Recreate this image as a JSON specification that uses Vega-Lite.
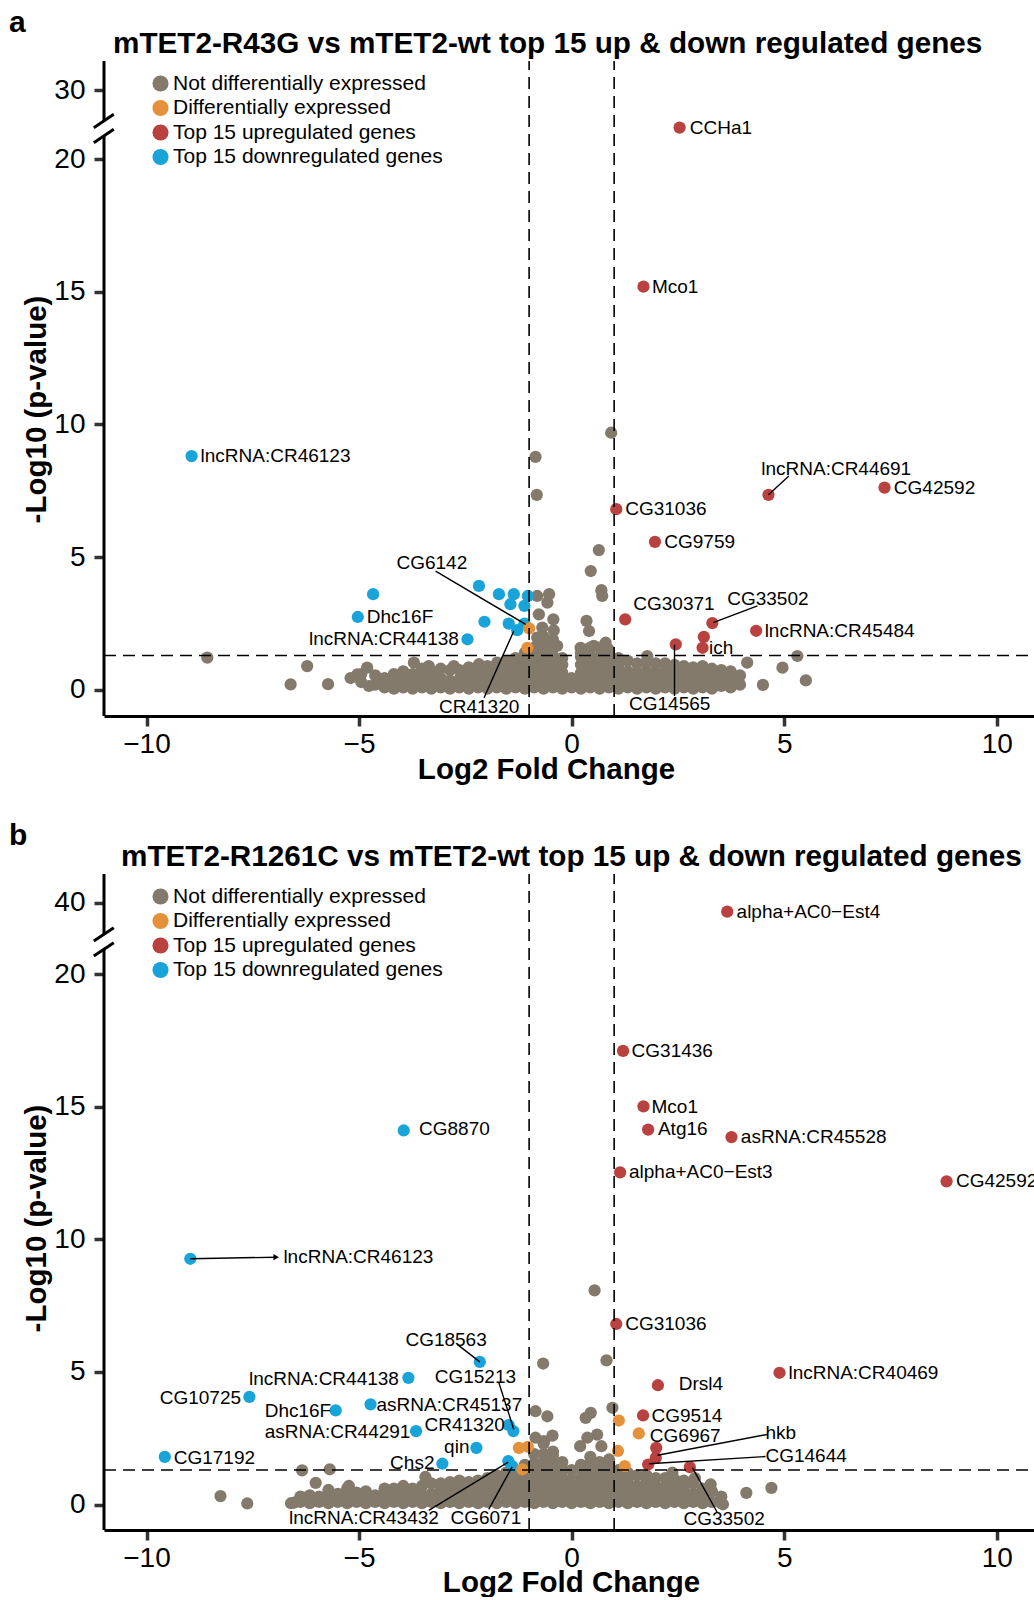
{
"$schema": "https://vega.github.io/schema/vega-lite/v6.json",
"background": "white",
"padding": {"left": 9, "top": 8, "right": 0, "bottom": 0},
"config": {
 "font": "Liberation Sans",
 "view": {"stroke": null},
 "axis": {"grid": false, "labelColor": "black", "titleColor": "black", "tickColor": "#333333", "labelFont": "Liberation Sans", "titleFont": "Liberation Sans"},
 "legend": {"orient": "none", "legendX": 46, "legendY": 12, "labelFontSize": 21, "labelColor": "black", "symbolSize": 260, "symbolType": "circle", "rowPadding": 2.5, "labelOffset": 2, "padding": 0, "symbolStrokeWidth": 0, "labelLimit": 500, "symbolOpacity": 1},
 "text": {"font": "Liberation Sans"}
},
"datasets": {
"a_grey": [
{"x":-8.57,"y":1.22},{"x":-6.22,"y":0.9},{"x":-6.61,"y":0.21},{"x":-5.73,"y":0.22},{"x":-5.04,"y":0.59},{"x":-4.81,"y":0.84},{"x":-4.77,"y":0.15},{"x":0.93,"y":9.69},{"x":-0.85,"y":8.78},{"x":-0.82,"y":7.35},{"x":0.64,"y":5.27},{"x":0.45,"y":4.48},{"x":0.7,"y":3.76},{"x":0.72,"y":3.54},{"x":-0.81,"y":3.54},{"x":-0.53,"y":3.61},{"x":-0.57,"y":3.29},{"x":-0.77,"y":2.85},{"x":-0.43,"y":2.66},{"x":-0.69,"y":2.35},{"x":-0.42,"y":2.25},{"x":0.35,"y":2.6},{"x":0.41,"y":2.22},{"x":-0.81,"y":1.97},{"x":-0.57,"y":1.85},{"x":-0.34,"y":1.66},{"x":0.21,"y":1.59},{"x":0.52,"y":1.66},{"x":0.8,"y":1.78},{"x":0.85,"y":1.55},{"x":1.78,"y":1.28},{"x":5.31,"y":1.28},{"x":4.96,"y":0.84},{"x":5.51,"y":0.36},{"x":4.5,"y":0.19},{"x":4.13,"y":1.03},{"x":-3.71,"y":1.03},{"x":-3.36,"y":0.9},{"x":-2.77,"y":0.9},{"x":-2.18,"y":0.97},{"x":-1.75,"y":1.03},
{"x":-5.2,"y":0.45},
{"x":-4.95,"y":0.3},{"x":-4.95,"y":0.6},
{"x":-4.62,"y":0.2},{"x":-4.62,"y":0.55},
{"x":-4.4,"y":0.1},{"x":-4.4,"y":0.45},
{"x":-4.18,"y":0.05},{"x":-4.18,"y":0.35},{"x":-4.18,"y":0.6},
{"x":-3.96,"y":0.1},{"x":-3.96,"y":0.4},{"x":-3.96,"y":0.7},
{"x":-3.74,"y":0.05},{"x":-3.74,"y":0.35},{"x":-3.74,"y":0.6},
{"x":-3.52,"y":0.1},{"x":-3.52,"y":0.45},{"x":-3.52,"y":0.8},
{"x":-3.3,"y":0.05},{"x":-3.3,"y":0.35},{"x":-3.3,"y":0.7},
{"x":-3.08,"y":0.1},{"x":-3.08,"y":0.45},{"x":-3.08,"y":0.8},
{"x":-2.86,"y":0.05},{"x":-2.86,"y":0.35},{"x":-2.86,"y":0.75},
{"x":-2.64,"y":0.1},{"x":-2.64,"y":0.4},{"x":-2.64,"y":0.75},
{"x":-2.42,"y":0.05},{"x":-2.42,"y":0.35},{"x":-2.42,"y":0.65},{"x":-2.42,"y":0.85},
{"x":-2.2,"y":0.1},{"x":-2.2,"y":0.4},{"x":-2.2,"y":0.7},{"x":-2.2,"y":0.85},
{"x":-1.98,"y":0.05},{"x":-1.98,"y":0.35},{"x":-1.98,"y":0.65},{"x":-1.98,"y":0.9},
{"x":-1.76,"y":0.1},{"x":-1.76,"y":0.4},{"x":-1.76,"y":0.7},{"x":-1.76,"y":0.95},
{"x":-1.54,"y":0.05},{"x":-1.54,"y":0.35},{"x":-1.54,"y":0.65},{"x":-1.54,"y":0.95},{"x":-1.54,"y":1.1},
{"x":-1.32,"y":0.1},{"x":-1.32,"y":0.4},{"x":-1.32,"y":0.7},{"x":-1.32,"y":1.0},{"x":-1.32,"y":1.2},
{"x":-1.1,"y":0.05},{"x":-1.1,"y":0.35},{"x":-1.1,"y":0.65},{"x":-1.1,"y":0.95},{"x":-1.1,"y":1.25},{"x":-1.1,"y":1.4},
{"x":-0.88,"y":0.1},{"x":-0.88,"y":0.4},{"x":-0.88,"y":0.7},{"x":-0.88,"y":1.0},{"x":-0.88,"y":1.3},{"x":-0.88,"y":1.6},
{"x":-0.66,"y":0.05},{"x":-0.66,"y":0.35},{"x":-0.66,"y":0.65},{"x":-0.66,"y":0.95},{"x":-0.66,"y":1.25},{"x":-0.66,"y":1.55},{"x":-0.66,"y":1.85},{"x":-0.66,"y":2.0},
{"x":-0.44,"y":0.1},{"x":-0.44,"y":0.4},{"x":-0.44,"y":0.7},{"x":-0.44,"y":1.0},{"x":-0.44,"y":1.3},{"x":-0.44,"y":1.6},{"x":-0.44,"y":1.9},
{"x":-0.22,"y":0.05},{"x":-0.22,"y":0.35},{"x":-0.22,"y":0.65},{"x":-0.22,"y":0.95},{"x":-0.22,"y":1.2},
{"x":0.0,"y":0.1},{"x":0.0,"y":0.45},
{"x":0.22,"y":0.05},{"x":0.22,"y":0.35},{"x":0.22,"y":0.65},{"x":0.22,"y":0.95},{"x":0.22,"y":1.25},{"x":0.22,"y":1.4},
{"x":0.44,"y":0.1},{"x":0.44,"y":0.4},{"x":0.44,"y":0.7},{"x":0.44,"y":1.0},{"x":0.44,"y":1.3},{"x":0.44,"y":1.6},
{"x":0.66,"y":0.05},{"x":0.66,"y":0.35},{"x":0.66,"y":0.65},{"x":0.66,"y":0.95},{"x":0.66,"y":1.25},{"x":0.66,"y":1.6},
{"x":0.88,"y":0.1},{"x":0.88,"y":0.4},{"x":0.88,"y":0.7},{"x":0.88,"y":1.0},{"x":0.88,"y":1.3},{"x":0.88,"y":1.5},
{"x":1.1,"y":0.05},{"x":1.1,"y":0.35},{"x":1.1,"y":0.65},{"x":1.1,"y":0.95},{"x":1.1,"y":1.2},
{"x":1.32,"y":0.1},{"x":1.32,"y":0.4},{"x":1.32,"y":0.7},{"x":1.32,"y":1.1},
{"x":1.54,"y":0.05},{"x":1.54,"y":0.35},{"x":1.54,"y":0.65},{"x":1.54,"y":1.0},
{"x":1.76,"y":0.1},{"x":1.76,"y":0.4},{"x":1.76,"y":0.7},{"x":1.76,"y":1.05},
{"x":1.98,"y":0.05},{"x":1.98,"y":0.35},{"x":1.98,"y":0.65},{"x":1.98,"y":1.0},
{"x":2.2,"y":0.1},{"x":2.2,"y":0.4},{"x":2.2,"y":0.7},{"x":2.2,"y":1.0},
{"x":2.42,"y":0.05},{"x":2.42,"y":0.35},{"x":2.42,"y":0.65},{"x":2.42,"y":0.95},
{"x":2.64,"y":0.1},{"x":2.64,"y":0.4},{"x":2.64,"y":0.7},{"x":2.64,"y":0.9},
{"x":2.86,"y":0.05},{"x":2.86,"y":0.35},{"x":2.86,"y":0.65},{"x":2.86,"y":0.85},
{"x":3.08,"y":0.1},{"x":3.08,"y":0.4},{"x":3.08,"y":0.7},{"x":3.08,"y":0.9},
{"x":3.3,"y":0.05},{"x":3.3,"y":0.35},{"x":3.3,"y":0.6},{"x":3.3,"y":0.8},
{"x":3.52,"y":0.15},{"x":3.52,"y":0.45},{"x":3.52,"y":0.75},
{"x":3.74,"y":0.1},{"x":3.74,"y":0.4},{"x":3.74,"y":0.7},
{"x":3.96,"y":0.2},{"x":3.96,"y":0.55}
],
"a_col": [
{"x":2.54,"y":24.57,"g":"Top 15 upregulated genes"},
{"x":1.69,"y":15.19,"g":"Top 15 upregulated genes"},
{"x":4.63,"y":7.35,"g":"Top 15 upregulated genes"},
{"x":7.36,"y":7.62,"g":"Top 15 upregulated genes"},
{"x":1.05,"y":6.81,"g":"Top 15 upregulated genes"},
{"x":1.96,"y":5.58,"g":"Top 15 upregulated genes"},
{"x":1.26,"y":2.66,"g":"Top 15 upregulated genes"},
{"x":3.31,"y":2.52,"g":"Top 15 upregulated genes"},
{"x":4.34,"y":2.23,"g":"Top 15 upregulated genes"},
{"x":3.11,"y":2.0,"g":"Top 15 upregulated genes"},
{"x":3.08,"y":1.59,"g":"Top 15 upregulated genes"},
{"x":2.45,"y":1.72,"g":"Top 15 upregulated genes"},
{"x":-8.94,"y":8.81,"g":"Top 15 downregulated genes"},
{"x":-4.67,"y":3.61,"g":"Top 15 downregulated genes"},
{"x":-5.03,"y":2.75,"g":"Top 15 downregulated genes"},
{"x":-2.45,"y":1.91,"g":"Top 15 downregulated genes"},
{"x":-2.18,"y":3.92,"g":"Top 15 downregulated genes"},
{"x":-2.05,"y":2.57,"g":"Top 15 downregulated genes"},
{"x":-1.71,"y":3.61,"g":"Top 15 downregulated genes"},
{"x":-1.36,"y":3.61,"g":"Top 15 downregulated genes"},
{"x":-1.44,"y":3.23,"g":"Top 15 downregulated genes"},
{"x":-1.03,"y":3.54,"g":"Top 15 downregulated genes"},
{"x":-1.11,"y":3.17,"g":"Top 15 downregulated genes"},
{"x":-1.48,"y":2.5,"g":"Top 15 downregulated genes"},
{"x":-1.28,"y":2.25,"g":"Top 15 downregulated genes"},
{"x":-1.11,"y":2.5,"g":"Top 15 downregulated genes"},
{"x":-1.0,"y":2.32,"g":"Differentially expressed"},
{"x":-1.04,"y":1.59,"g":"Differentially expressed"}
],
"a_lab": [
{"x":2.78,"y":24.57,"label":"CCHa1"},
{"x":1.89,"y":15.19,"label":"Mco1"},
{"x":-8.73,"y":8.81,"label":"lncRNA:CR46123"},
{"x":4.46,"y":8.31,"label":"lncRNA:CR44691"},
{"x":7.58,"y":7.62,"label":"CG42592"},
{"x":1.26,"y":6.81,"label":"CG31036"},
{"x":2.18,"y":5.58,"label":"CG9759"},
{"x":-4.12,"y":4.77,"label":"CG6142"},
{"x":-4.82,"y":2.75,"label":"Dhc16F"},
{"x":-6.18,"y":1.91,"label":"lncRNA:CR44138"},
{"x":-3.12,"y":-0.64,"label":"CR41320"},
{"x":1.45,"y":3.23,"label":"CG30371"},
{"x":3.66,"y":3.42,"label":"CG33502"},
{"x":4.54,"y":2.22,"label":"lncRNA:CR45484"},
{"x":3.23,"y":1.57,"label":"ich"},
{"x":1.35,"y":-0.52,"label":"CG14565"}
],
"a_seg": [
{"x":4.63,"y":7.35,"x2":5.11,"y2":8.06},
{"x":-3.2,"y":4.48,"x2":-1.08,"y2":2.47},
{"x":-2.06,"y":-0.29,"x2":-1.36,"y2":2.22},
{"x":3.33,"y":2.54,"x2":4.37,"y2":3.17},
{"x":2.42,"y":1.7,"x2":2.42,"y2":-0.23}
],
"a_thr": [
{"x":-1,"y":-0.98,"x2":-1,"y2":34.26},
{"x":1,"y":-0.98,"x2":1,"y2":34.26},
{"x":-11,"y":1.301,"x2":10.9,"y2":1.301}
],
"a_brk": [
{"x":-11,"y":-0.98,"x2":-11,"y2":23.35},
{"x":-11,"y":25.53,"x2":-11,"y2":34.26},
{"x":-11.24,"y":24.56,"x2":-10.77,"y2":26.51},
{"x":-11.24,"y":22.37,"x2":-10.77,"y2":24.32}
],
"b_grey": [
{"x":-8.26,"y":0.32},{"x":-7.63,"y":0.04},{"x":-6.34,"y":1.29},{"x":-6.02,"y":0.82},{"x":-5.69,"y":1.33},{"x":-6.53,"y":0.07},{"x":-6.3,"y":0.26},{"x":-5.24,"y":0.7},{"x":-3.44,"y":1.04},{"x":-0.67,"y":5.32},{"x":-0.85,"y":3.52},{"x":-0.57,"y":3.33},{"x":-0.85,"y":2.52},{"x":-0.65,"y":2.39},{"x":-0.45,"y":2.6},{"x":0.54,"y":8.08},{"x":0.82,"y":5.44},{"x":0.96,"y":3.65},{"x":0.45,"y":3.46},{"x":0.33,"y":3.27},{"x":0.37,"y":2.52},{"x":0.6,"y":2.64},{"x":0.2,"y":2.2},{"x":0.7,"y":2.2},{"x":4.7,"y":0.63},{"x":4.11,"y":0.44},{"x":3.56,"y":0.01},{"x":3.27,"y":0.76},{"x":2.37,"y":1.2},{"x":2.9,"y":1.0},
{"x":-6.6,"y":0.05},
{"x":-6.38,"y":0.1},{"x":-6.38,"y":0.3},
{"x":-6.16,"y":0.05},{"x":-6.16,"y":0.35},
{"x":-5.94,"y":0.1},{"x":-5.94,"y":0.3},
{"x":-5.72,"y":0.05},{"x":-5.72,"y":0.35},{"x":-5.72,"y":0.55},
{"x":-5.5,"y":0.1},{"x":-5.5,"y":0.4},
{"x":-5.28,"y":0.05},{"x":-5.28,"y":0.35},{"x":-5.28,"y":0.6},
{"x":-5.06,"y":0.1},{"x":-5.06,"y":0.45},
{"x":-4.84,"y":0.05},{"x":-4.84,"y":0.3},{"x":-4.84,"y":0.5},
{"x":-4.62,"y":0.1},{"x":-4.62,"y":0.35},
{"x":-4.4,"y":0.05},{"x":-4.4,"y":0.35},{"x":-4.4,"y":0.6},
{"x":-4.18,"y":0.1},{"x":-4.18,"y":0.4},{"x":-4.18,"y":0.6},
{"x":-3.96,"y":0.05},{"x":-3.96,"y":0.35},{"x":-3.96,"y":0.7},
{"x":-3.74,"y":0.1},{"x":-3.74,"y":0.4},{"x":-3.74,"y":0.6},
{"x":-3.52,"y":0.05},{"x":-3.52,"y":0.35},{"x":-3.52,"y":0.7},
{"x":-3.3,"y":0.1},{"x":-3.3,"y":0.4},{"x":-3.3,"y":0.8},
{"x":-3.08,"y":0.05},{"x":-3.08,"y":0.35},{"x":-3.08,"y":0.65},{"x":-3.08,"y":0.8},
{"x":-2.86,"y":0.1},{"x":-2.86,"y":0.4},{"x":-2.86,"y":0.7},{"x":-2.86,"y":0.85},
{"x":-2.64,"y":0.05},{"x":-2.64,"y":0.35},{"x":-2.64,"y":0.65},{"x":-2.64,"y":0.9},
{"x":-2.42,"y":0.1},{"x":-2.42,"y":0.4},{"x":-2.42,"y":0.7},{"x":-2.42,"y":0.85},
{"x":-2.2,"y":0.05},{"x":-2.2,"y":0.35},{"x":-2.2,"y":0.65},{"x":-2.2,"y":0.9},
{"x":-1.98,"y":0.1},{"x":-1.98,"y":0.4},{"x":-1.98,"y":0.7},{"x":-1.98,"y":1.0},
{"x":-1.76,"y":0.05},{"x":-1.76,"y":0.35},{"x":-1.76,"y":0.65},{"x":-1.76,"y":0.95},{"x":-1.76,"y":1.1},
{"x":-1.54,"y":0.1},{"x":-1.54,"y":0.4},{"x":-1.54,"y":0.7},{"x":-1.54,"y":1.0},{"x":-1.54,"y":1.2},
{"x":-1.32,"y":0.05},{"x":-1.32,"y":0.35},{"x":-1.32,"y":0.65},{"x":-1.32,"y":0.95},{"x":-1.32,"y":1.3},
{"x":-1.1,"y":0.1},{"x":-1.1,"y":0.4},{"x":-1.1,"y":0.7},{"x":-1.1,"y":1.0},{"x":-1.1,"y":1.3},{"x":-1.1,"y":1.5},
{"x":-0.88,"y":0.05},{"x":-0.88,"y":0.35},{"x":-0.88,"y":0.65},{"x":-0.88,"y":0.95},{"x":-0.88,"y":1.25},{"x":-0.88,"y":1.55},{"x":-0.88,"y":1.9},
{"x":-0.66,"y":0.1},{"x":-0.66,"y":0.4},{"x":-0.66,"y":0.7},{"x":-0.66,"y":1.0},{"x":-0.66,"y":1.3},{"x":-0.66,"y":1.6},{"x":-0.66,"y":1.9},{"x":-0.66,"y":2.3},
{"x":-0.44,"y":0.05},{"x":-0.44,"y":0.35},{"x":-0.44,"y":0.65},{"x":-0.44,"y":0.95},{"x":-0.44,"y":1.25},{"x":-0.44,"y":1.55},{"x":-0.44,"y":1.85},{"x":-0.44,"y":2.0},
{"x":-0.22,"y":0.1},{"x":-0.22,"y":0.4},{"x":-0.22,"y":0.7},{"x":-0.22,"y":1.0},{"x":-0.22,"y":1.3},{"x":-0.22,"y":1.6},
{"x":0.0,"y":0.05},{"x":0.0,"y":0.35},{"x":0.0,"y":0.65},{"x":0.0,"y":0.95},{"x":0.0,"y":1.3},
{"x":0.22,"y":0.1},{"x":0.22,"y":0.4},{"x":0.22,"y":0.7},{"x":0.22,"y":1.0},{"x":0.22,"y":1.3},{"x":0.22,"y":1.5},
{"x":0.44,"y":0.05},{"x":0.44,"y":0.35},{"x":0.44,"y":0.65},{"x":0.44,"y":0.95},{"x":0.44,"y":1.25},{"x":0.44,"y":1.55},{"x":0.44,"y":1.8},
{"x":0.66,"y":0.1},{"x":0.66,"y":0.4},{"x":0.66,"y":0.7},{"x":0.66,"y":1.0},{"x":0.66,"y":1.3},{"x":0.66,"y":1.6},
{"x":0.88,"y":0.05},{"x":0.88,"y":0.35},{"x":0.88,"y":0.65},{"x":0.88,"y":0.95},{"x":0.88,"y":1.25},{"x":0.88,"y":1.55},{"x":0.88,"y":1.7},
{"x":1.1,"y":0.1},{"x":1.1,"y":0.4},{"x":1.1,"y":0.7},{"x":1.1,"y":1.0},{"x":1.1,"y":1.3},
{"x":1.32,"y":0.05},{"x":1.32,"y":0.35},{"x":1.32,"y":0.65},{"x":1.32,"y":0.95},{"x":1.32,"y":1.2},
{"x":1.54,"y":0.1},{"x":1.54,"y":0.4},{"x":1.54,"y":0.7},{"x":1.54,"y":1.1},
{"x":1.76,"y":0.05},{"x":1.76,"y":0.35},{"x":1.76,"y":0.65},{"x":1.76,"y":0.95},{"x":1.76,"y":1.1},
{"x":1.98,"y":0.1},{"x":1.98,"y":0.4},{"x":1.98,"y":0.7},{"x":1.98,"y":1.0},
{"x":2.2,"y":0.05},{"x":2.2,"y":0.35},{"x":2.2,"y":0.65},{"x":2.2,"y":1.0},
{"x":2.42,"y":0.1},{"x":2.42,"y":0.4},{"x":2.42,"y":0.7},{"x":2.42,"y":0.95},
{"x":2.64,"y":0.05},{"x":2.64,"y":0.35},{"x":2.64,"y":0.65},{"x":2.64,"y":0.9},
{"x":2.86,"y":0.1},{"x":2.86,"y":0.4},{"x":2.86,"y":0.8},
{"x":3.08,"y":0.05},{"x":3.08,"y":0.35},{"x":3.08,"y":0.6},
{"x":3.3,"y":0.1},{"x":3.3,"y":0.5},
{"x":3.52,"y":0.05},{"x":3.52,"y":0.3}
],
"b_col": [
{"x":3.66,"y":37.49,"g":"Top 15 upregulated genes"},
{"x":1.21,"y":17.11,"g":"Top 15 upregulated genes"},
{"x":1.69,"y":15.02,"g":"Top 15 upregulated genes"},
{"x":1.8,"y":14.14,"g":"Top 15 upregulated genes"},
{"x":3.76,"y":13.86,"g":"Top 15 upregulated genes"},
{"x":1.14,"y":12.53,"g":"Top 15 upregulated genes"},
{"x":8.82,"y":12.19,"g":"Top 15 upregulated genes"},
{"x":1.05,"y":6.81,"g":"Top 15 upregulated genes"},
{"x":2.03,"y":4.5,"g":"Top 15 upregulated genes"},
{"x":4.89,"y":4.97,"g":"Top 15 upregulated genes"},
{"x":1.68,"y":3.36,"g":"Top 15 upregulated genes"},
{"x":1.99,"y":2.14,"g":"Top 15 upregulated genes"},
{"x":1.98,"y":1.76,"g":"Top 15 upregulated genes"},
{"x":1.8,"y":1.51,"g":"Top 15 upregulated genes"},
{"x":2.78,"y":1.41,"g":"Top 15 upregulated genes"},
{"x":-3.95,"y":14.11,"g":"Top 15 downregulated genes"},
{"x":-8.97,"y":9.27,"g":"Top 15 downregulated genes"},
{"x":-2.16,"y":5.38,"g":"Top 15 downregulated genes"},
{"x":-3.84,"y":4.78,"g":"Top 15 downregulated genes"},
{"x":-7.58,"y":4.06,"g":"Top 15 downregulated genes"},
{"x":-4.73,"y":3.78,"g":"Top 15 downregulated genes"},
{"x":-5.55,"y":3.55,"g":"Top 15 downregulated genes"},
{"x":-1.48,"y":3.0,"g":"Top 15 downregulated genes"},
{"x":-1.37,"y":2.77,"g":"Top 15 downregulated genes"},
{"x":-3.66,"y":2.77,"g":"Top 15 downregulated genes"},
{"x":-2.24,"y":2.14,"g":"Top 15 downregulated genes"},
{"x":-9.57,"y":1.8,"g":"Top 15 downregulated genes"},
{"x":-3.04,"y":1.54,"g":"Top 15 downregulated genes"},
{"x":-1.49,"y":1.64,"g":"Top 15 downregulated genes"},
{"x":-1.4,"y":1.45,"g":"Top 15 downregulated genes"},
{"x":-1.24,"y":2.14,"g":"Differentially expressed"},
{"x":-1.03,"y":2.18,"g":"Differentially expressed"},
{"x":-1.16,"y":1.33,"g":"Differentially expressed"},
{"x":1.11,"y":3.17,"g":"Differentially expressed"},
{"x":1.58,"y":2.68,"g":"Differentially expressed"},
{"x":1.09,"y":2.02,"g":"Differentially expressed"},
{"x":1.25,"y":1.45,"g":"Differentially expressed"}
],
"b_lab": [
{"x":3.88,"y":37.49,"label":"alpha+AC0−Est4"},
{"x":1.41,"y":17.09,"label":"CG31436"},
{"x":1.88,"y":14.99,"label":"Mco1"},
{"x":2.03,"y":14.16,"label":"Atg16"},
{"x":3.98,"y":13.85,"label":"asRNA:CR45528"},
{"x":1.35,"y":12.54,"label":"alpha+AC0−Est3"},
{"x":9.04,"y":12.19,"label":"CG42592"},
{"x":-3.59,"y":14.15,"label":"CG8870"},
{"x":-6.78,"y":9.34,"label":"lncRNA:CR46123"},
{"x":1.26,"y":6.81,"label":"CG31036"},
{"x":-3.91,"y":6.22,"label":"CG18563"},
{"x":-7.59,"y":4.75,"label":"lncRNA:CR44138"},
{"x":-3.22,"y":4.8,"label":"CG15213"},
{"x":-9.69,"y":4.02,"label":"CG10725"},
{"x":-4.59,"y":3.75,"label":"asRNA:CR45137"},
{"x":-7.22,"y":3.52,"label":"Dhc16F"},
{"x":-3.46,"y":3.0,"label":"CR41320"},
{"x":-7.22,"y":2.74,"label":"asRNA:CR44291"},
{"x":-3.0,"y":2.17,"label":"qin"},
{"x":-9.36,"y":1.76,"label":"CG17192"},
{"x":-4.27,"y":1.58,"label":"Chs2"},
{"x":-6.65,"y":-0.52,"label":"lncRNA:CR43432"},
{"x":-2.85,"y":-0.52,"label":"CG6071"},
{"x":2.52,"y":4.53,"label":"Drsl4"},
{"x":5.1,"y":4.97,"label":"lncRNA:CR40469"},
{"x":1.88,"y":3.33,"label":"CG9514"},
{"x":1.84,"y":2.58,"label":"CG6967"},
{"x":4.56,"y":2.7,"label":"hkb"},
{"x":4.56,"y":1.83,"label":"CG14644"},
{"x":2.63,"y":-0.53,"label":"CG33502"}
],
"b_seg": [
{"x":-2.69,"y":6.04,"x2":-2.16,"y2":5.38},
{"x":-1.71,"y":4.59,"x2":-1.36,"y2":2.83},
{"x":-3.36,"y":-0.22,"x2":-1.49,"y2":1.6},
{"x":-1.95,"y":-0.18,"x2":-1.4,"y2":1.42},
{"x":2.02,"y":1.86,"x2":4.59,"y2":2.64},
{"x":1.82,"y":1.54,"x2":4.56,"y2":1.81},
{"x":2.84,"y":1.39,"x2":3.43,"y2":-0.31},
{"x":-8.97,"y":9.27,"x2":-6.95,"y2":9.33}
],
"b_arrow": [{"x":-6.95,"y":9.33}],
"b_thr": [
{"x":-1,"y":-0.96,"x2":-1,"y2":48.0},
{"x":1,"y":-0.96,"x2":1,"y2":48.0},
{"x":-11,"y":1.301,"x2":10.9,"y2":1.301}
],
"b_brk": [
{"x":-11,"y":-0.96,"x2":-11,"y2":26.98},
{"x":-11,"y":31.17,"x2":-11,"y2":48.0},
{"x":-11.24,"y":29.3,"x2":-10.77,"y2":33.02},
{"x":-11.24,"y":25.11,"x2":-10.77,"y2":28.83}
]
},
"spacing": 37,
"resolve": {"scale": {"color": "independent"}, "legend": {"color": "independent"}},
"vconcat": [
{
 "title": {"text": "a", "anchor": "start", "fontSize": 30, "fontWeight": "bold", "offset": -39, "dx": -12, "baseline": "bottom", "color": "black"},
 "resolve": {"scale": {"color": "independent"}, "legend": {"color": "independent"}},
 "vconcat": [
 {
  "width": 931, "height": 655,
  "title": {"text": "mTET2-R43G vs mTET2-wt top 15 up & down regulated genes", "anchor": "start", "frame": "group", "dx": 9, "fontSize": 29.7, "fontWeight": "bold", "offset": -29.5, "baseline": "bottom", "color": "black"},
  "encoding": {
   "x": {"field": "x", "type": "quantitative", "scale": {"domain": [-11, 10.9], "nice": false, "zero": false},
         "axis": {"values": [-10, -5, 0, 5, 10], "title": "Log2 Fold Change", "titleFontSize": 29.5, "titleFontWeight": "bold", "labelFontSize": 28, "tickSize": 10, "tickWidth": 3.5, "domainColor": "black", "domainWidth": 3, "labelPadding": 4, "titleX": 442, "titleY": 62, "titleBaseline": "alphabetic", "titleAnchor": null}},
   "y": {"field": "y", "type": "quantitative", "scale": {"domain": [-0.98, 20, 30, 34.26], "range": [655, 98, 29.3, 0], "nice": false, "zero": false},
         "axis": {"values": [0, 5, 10, 15, 20, 30], "title": "-Log10 (p-value)", "titleFontSize": 29.5, "titleFontWeight": "bold", "labelFontSize": 28, "tickSize": 10, "tickWidth": 3.5, "domain": false, "labelPadding": 9, "titleX": -59, "titleY": 348, "titleBaseline": "alphabetic", "titleAngle": 270}}
  },
  "layer": [
   {"data": {"name": "a_grey"}, "mark": {"type": "point", "filled": true, "opacity": 1, "size": 150, "strokeWidth": 0},
    "encoding": {"color": {"datum": "Not differentially expressed", "type": "nominal", "scale": {"domain": ["Not differentially expressed", "Differentially expressed", "Top 15 upregulated genes", "Top 15 downregulated genes"], "range": ["#837a6c", "#e5913b", "#b94240", "#18a3d9"]}, "legend": {"title": null}}}},
   {"data": {"name": "a_col"}, "mark": {"type": "point", "filled": true, "opacity": 1, "size": 150, "strokeWidth": 0},
    "encoding": {"color": {"field": "g", "type": "nominal", "scale": {"domain": ["Not differentially expressed", "Differentially expressed", "Top 15 upregulated genes", "Top 15 downregulated genes"], "range": ["#837a6c", "#e5913b", "#b94240", "#18a3d9"]}, "legend": {"title": null}}}},
   {"data": {"name": "a_thr"}, "mark": {"type": "rule", "strokeDash": [12, 7], "strokeWidth": 1.6, "color": "black"},
    "encoding": {"x2": {"field": "x2"}, "y2": {"field": "y2"}}},
   {"data": {"name": "a_seg"}, "mark": {"type": "rule", "strokeWidth": 1.4, "color": "black"},
    "encoding": {"x2": {"field": "x2"}, "y2": {"field": "y2"}}},
   {"data": {"name": "a_lab"}, "mark": {"type": "text", "align": "left", "baseline": "middle", "fontSize": 19, "color": "black"},
    "encoding": {"text": {"field": "label", "type": "nominal"}}},
   {"data": {"name": "a_brk"}, "mark": {"type": "rule", "strokeWidth": 3, "color": "black"},
    "encoding": {"x2": {"field": "x2"}, "y2": {"field": "y2"}}}
  ]
 }
 ]
},
{
 "title": {"text": "b", "anchor": "start", "fontSize": 30, "fontWeight": "bold", "offset": -39, "dx": -12, "baseline": "bottom", "color": "black"},
 "resolve": {"scale": {"color": "independent"}, "legend": {"color": "independent"}},
 "vconcat": [
 {
  "width": 931, "height": 656,
  "title": {"text": "mTET2-R1261C vs mTET2-wt top 15 up & down regulated genes", "anchor": "start", "frame": "group", "dx": 17, "fontSize": 29.7, "fontWeight": "bold", "offset": -29.5, "baseline": "bottom", "color": "black"},
  "encoding": {
   "x": {"field": "x", "type": "quantitative", "scale": {"domain": [-11, 10.9], "nice": false, "zero": false},
         "axis": {"values": [-10, -5, 0, 5, 10], "title": "Log2 Fold Change", "titleFontSize": 29.5, "titleFontWeight": "bold", "labelFontSize": 28, "tickSize": 10, "tickWidth": 3.5, "domainColor": "black", "domainWidth": 3, "labelPadding": 4, "titleX": 467, "titleY": 61, "titleBaseline": "alphabetic", "titleAnchor": null}},
   "y": {"field": "y", "type": "quantitative", "scale": {"domain": [-0.96, 20, 40, 48.0], "range": [656, 100.3, 28.7, 0], "nice": false, "zero": false},
         "axis": {"values": [0, 5, 10, 15, 20, 40], "title": "-Log10 (p-value)", "titleFontSize": 29.5, "titleFontWeight": "bold", "labelFontSize": 28, "tickSize": 10, "tickWidth": 3.5, "domain": false, "labelPadding": 9, "titleX": -59, "titleY": 344, "titleBaseline": "alphabetic", "titleAngle": 270}}
  },
  "layer": [
   {"data": {"name": "b_grey"}, "mark": {"type": "point", "filled": true, "opacity": 1, "size": 150, "strokeWidth": 0},
    "encoding": {"color": {"datum": "Not differentially expressed", "type": "nominal", "scale": {"domain": ["Not differentially expressed", "Differentially expressed", "Top 15 upregulated genes", "Top 15 downregulated genes"], "range": ["#837a6c", "#e5913b", "#b94240", "#18a3d9"]}, "legend": {"title": null}}}},
   {"data": {"name": "b_col"}, "mark": {"type": "point", "filled": true, "opacity": 1, "size": 150, "strokeWidth": 0},
    "encoding": {"color": {"field": "g", "type": "nominal", "scale": {"domain": ["Not differentially expressed", "Differentially expressed", "Top 15 upregulated genes", "Top 15 downregulated genes"], "range": ["#837a6c", "#e5913b", "#b94240", "#18a3d9"]}, "legend": {"title": null}}}},
   {"data": {"name": "b_thr"}, "mark": {"type": "rule", "strokeDash": [12, 7], "strokeWidth": 1.6, "color": "black"},
    "encoding": {"x2": {"field": "x2"}, "y2": {"field": "y2"}}},
   {"data": {"name": "b_seg"}, "mark": {"type": "rule", "strokeWidth": 1.4, "color": "black"},
    "encoding": {"x2": {"field": "x2"}, "y2": {"field": "y2"}}},
   {"data": {"name": "b_arrow"}, "mark": {"type": "point", "shape": "triangle-right", "filled": true, "opacity": 1, "size": 40, "color": "black"},
    "encoding": {}},
   {"data": {"name": "b_lab"}, "mark": {"type": "text", "align": "left", "baseline": "middle", "fontSize": 19, "color": "black"},
    "encoding": {"text": {"field": "label", "type": "nominal"}}},
   {"data": {"name": "b_brk"}, "mark": {"type": "rule", "strokeWidth": 3, "color": "black"},
    "encoding": {"x2": {"field": "x2"}, "y2": {"field": "y2"}}}
  ]
 }
 ]
}
]
}
